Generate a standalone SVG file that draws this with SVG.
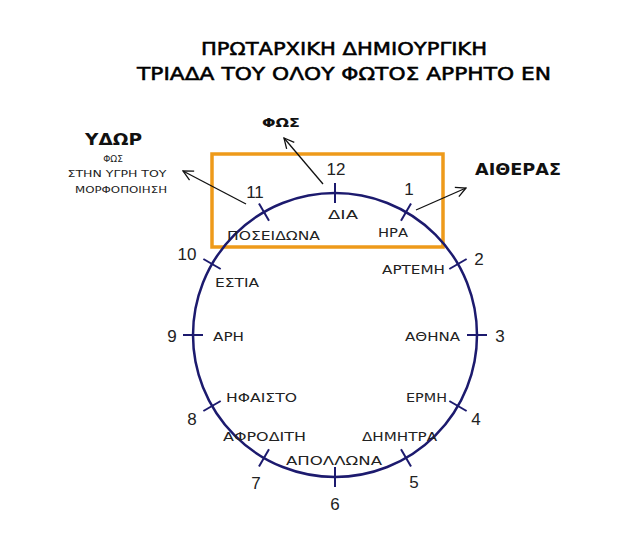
<svg xmlns="http://www.w3.org/2000/svg" width="640" height="548" viewBox="0 0 640 548">
<defs>
<style>
text{font-family:"DejaVu Sans","Noto Sans",sans-serif;fill:#111}
.t{font-size:17px;fill:#000;stroke:#000;stroke-width:0.5}
.num{font-family:"Liberation Sans","DejaVu Sans",sans-serif;font-size:17px;text-anchor:middle;fill:#222}
.lab{font-size:12px;fill:#222}
.hd{font-weight:bold}
.sub{font-size:9px;text-anchor:middle;fill:#222}
.tick{stroke:#1c1a6e;stroke-width:2}
.arr{stroke:#111;stroke-width:1.3;fill:none;marker-end:url(#ah)}
</style>
<marker id="ah" viewBox="0 0 12 12" refX="11" refY="6" markerWidth="12" markerHeight="12" markerUnits="userSpaceOnUse" orient="auto">
<path d="M1,1 L11,6 L1,11" fill="none" stroke="#111" stroke-width="1.3"/>
</marker>
</defs>
<rect width="640" height="548" fill="#fff"/>
<g id="title">
<text class="t" x="344" y="55" text-anchor="middle" textLength="286" lengthAdjust="spacingAndGlyphs">ΠΡΩΤΑΡΧΙΚΗ ΔΗΜΙΟΥΡΓΙΚΗ</text>
<text class="t" x="344" y="80" text-anchor="middle" textLength="414" lengthAdjust="spacingAndGlyphs">ΤΡΙΑΔΑ ΤΟΥ ΟΛΟΥ ΦΩΤΟΣ ΑΡΡΗΤΟ ΕΝ</text>
</g>
<g id="triad-box">
<rect x="212" y="154" width="231" height="93" fill="none" stroke="#EE9A1A" stroke-width="3.5"/>
</g>
<g id="clock">
<circle cx="335" cy="335" r="142" fill="none" stroke="#1c1a6e" stroke-width="2.5"/>
</g>
<g id="ticks">
<line class="tick" x1="335" y1="203" x2="335" y2="183"/>
<line class="tick" x1="401" y1="220.7" x2="411" y2="203.4"/>
<line class="tick" x1="449.3" y1="269" x2="466.6" y2="259"/>
<line class="tick" x1="467" y1="335" x2="487" y2="335"/>
<line class="tick" x1="449.3" y1="401" x2="466.6" y2="411"/>
<line class="tick" x1="401" y1="449.3" x2="411" y2="466.6"/>
<line class="tick" x1="335" y1="467" x2="335" y2="487"/>
<line class="tick" x1="269" y1="449.3" x2="259" y2="466.6"/>
<line class="tick" x1="220.7" y1="401" x2="203.4" y2="411"/>
<line class="tick" x1="203" y1="335" x2="183" y2="335"/>
<line class="tick" x1="220.7" y1="269" x2="203.4" y2="259"/>
<line class="tick" x1="269" y1="220.7" x2="259" y2="203.4"/>
</g>
<g id="numbers">
<text class="num" x="336" y="175">12</text>
<text class="num" x="409" y="195">1</text>
<text class="num" x="479" y="265">2</text>
<text class="num" x="500" y="342">3</text>
<text class="num" x="476" y="425">4</text>
<text class="num" x="414" y="488">5</text>
<text class="num" x="335" y="510">6</text>
<text class="num" x="256" y="489">7</text>
<text class="num" x="192" y="425">8</text>
<text class="num" x="172" y="342">9</text>
<text class="num" x="187" y="260">10</text>
<text class="num" x="255" y="198">11</text>
</g>
<g id="gods">
<text class="lab" x="328" y="219" textLength="30" lengthAdjust="spacingAndGlyphs">ΔΙΑ</text>
<text class="lab" x="378" y="237" textLength="30" lengthAdjust="spacingAndGlyphs">ΗΡΑ</text>
<text class="lab" x="227" y="240" textLength="93" lengthAdjust="spacingAndGlyphs">ΠΟΣΕΙΔΩΝΑ</text>
<text class="lab" x="382" y="274" textLength="63" lengthAdjust="spacingAndGlyphs">ΑΡΤΕΜΗ</text>
<text class="lab" x="405" y="341" textLength="55" lengthAdjust="spacingAndGlyphs">ΑΘΗΝΑ</text>
<text class="lab" x="406" y="402" textLength="41" lengthAdjust="spacingAndGlyphs">ΕΡΜΗ</text>
<text class="lab" x="362" y="441" textLength="75" lengthAdjust="spacingAndGlyphs">ΔΗΜΗΤΡΑ</text>
<text class="lab" x="286" y="465" textLength="96" lengthAdjust="spacingAndGlyphs">ΑΠΟΛΛΩΝΑ</text>
<text class="lab" x="223" y="441" textLength="83" lengthAdjust="spacingAndGlyphs">ΑΦΡΟΔΙΤΗ</text>
<text class="lab" x="226" y="402" textLength="71" lengthAdjust="spacingAndGlyphs">ΗΦΑΙΣΤΟ</text>
<text class="lab" x="213" y="341" textLength="31" lengthAdjust="spacingAndGlyphs">ΑΡΗ</text>
<text class="lab" x="215" y="287" textLength="44" lengthAdjust="spacingAndGlyphs">ΕΣΤΙΑ</text>
</g>
<g id="fos">
<text class="hd" x="262" y="127" font-size="13" textLength="38" lengthAdjust="spacingAndGlyphs">ΦΩΣ</text>
</g>
<g id="ydor">
<text class="hd" x="85" y="145" font-size="16" textLength="57" lengthAdjust="spacingAndGlyphs">ΥΔΩΡ</text>
<text class="sub" x="113" y="162">ΦΩΣ</text>
<text class="sub" x="117" y="177" textLength="99" lengthAdjust="spacingAndGlyphs">ΣΤΗΝ ΥΓΡΗ ΤΟΥ</text>
<text class="sub" x="121" y="193" textLength="92" lengthAdjust="spacingAndGlyphs">ΜΟΡΦΟΠΟΙΗΣΗ</text>
</g>
<g id="aitheras">
<text class="hd" x="475" y="175" font-size="16" textLength="86" lengthAdjust="spacingAndGlyphs">ΑΙΘΕΡΑΣ</text>
</g>
<g id="connectors">
<line class="arr" x1="323" y1="184" x2="284" y2="138"/>
<line class="arr" x1="246" y1="204" x2="183" y2="171"/>
<line class="arr" x1="416" y1="210" x2="466" y2="188"/>
</g>
</svg>
